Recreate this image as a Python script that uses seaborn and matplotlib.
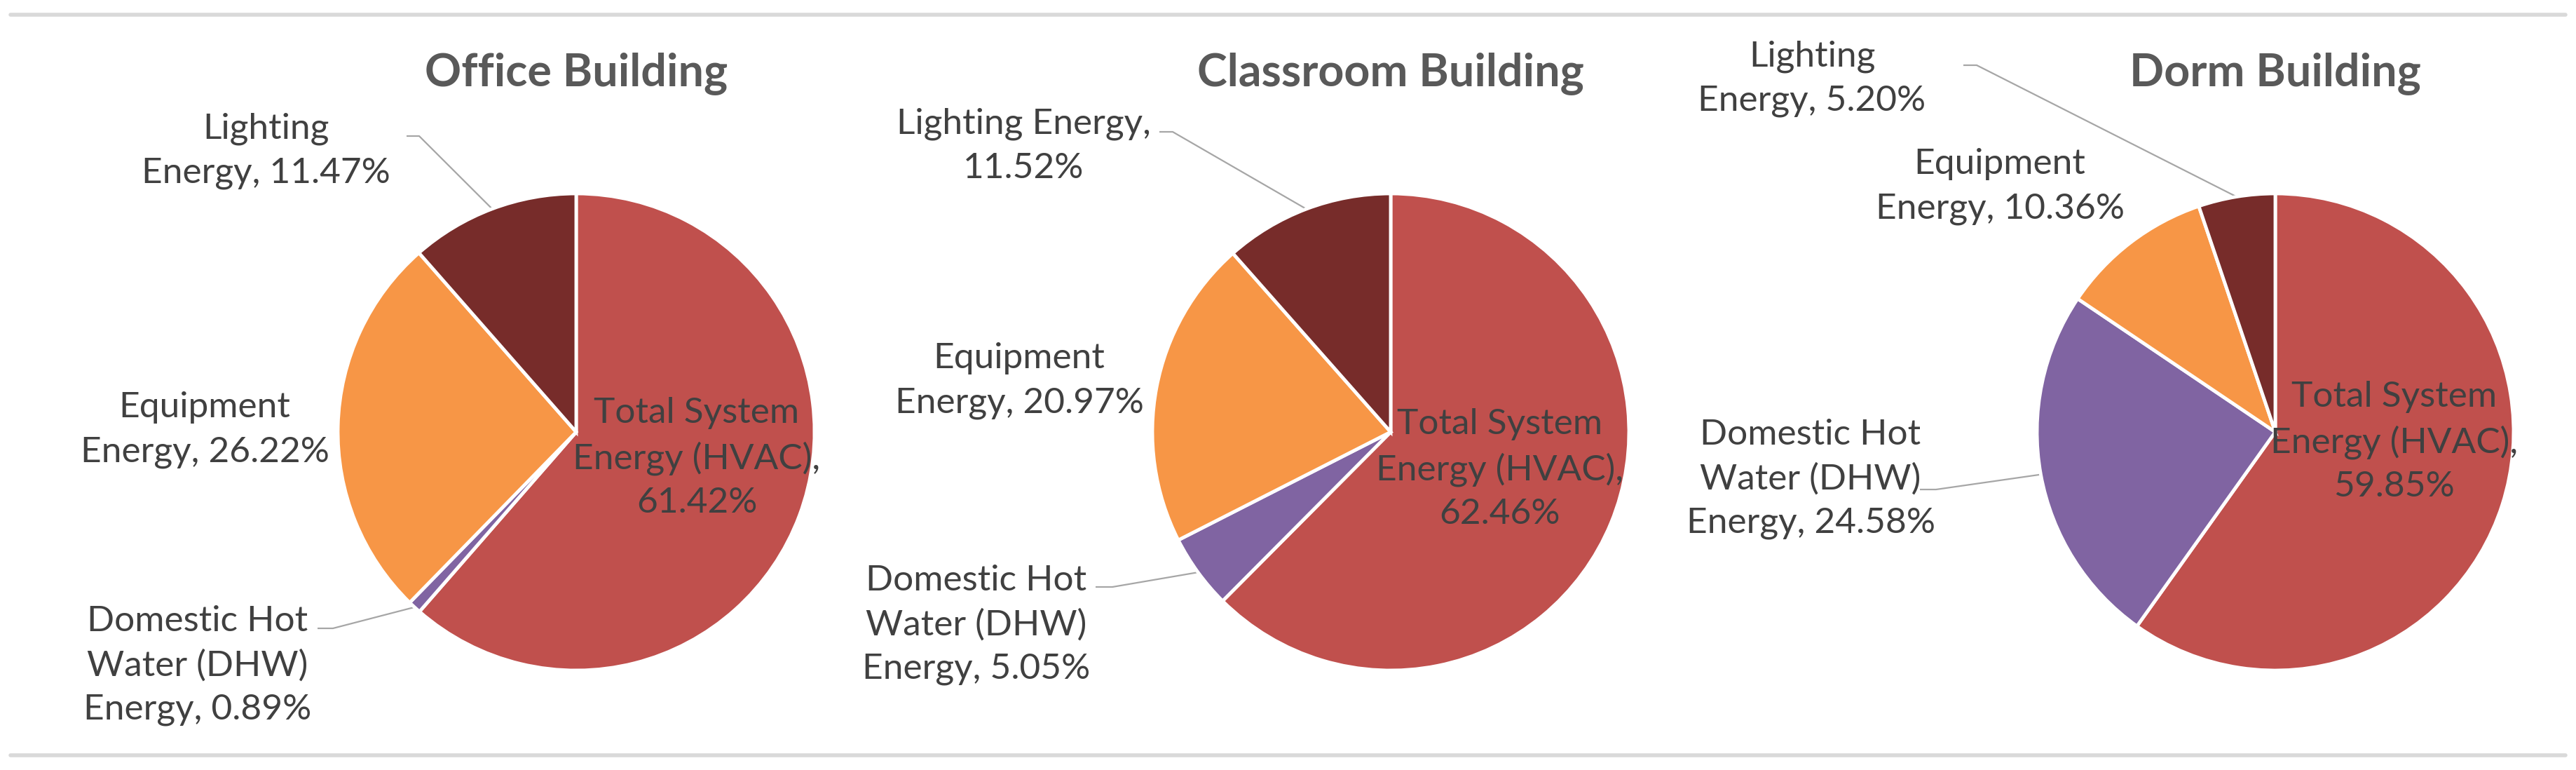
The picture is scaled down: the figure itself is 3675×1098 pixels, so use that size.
import numpy as np
import matplotlib
matplotlib.use("Agg")
import matplotlib.pyplot as plt
import seaborn as sns

# ---------------- data ----------------
buildings = ["Office Building", "Classroom Building", "Dorm Building"]
categories = ["Total System Energy (HVAC)", "Domestic Hot Water (DHW) Energy",
              "Equipment Energy", "Lighting Energy"]
office_values = [61.42, 0.89, 26.22, 11.47]
classroom_values = [62.46, 5.05, 20.97, 11.52]
dorm_values = [59.85, 24.58, 10.36, 5.20]

# label text templates (line breaks as in the reference)
office_labels = ["Total System\nEnergy (HVAC),\n{}", "Domestic Hot\nWater (DHW)\nEnergy, {}",
                 "Equipment\nEnergy, {}", "Lighting\nEnergy, {}"]
classroom_labels = ["Total System\nEnergy (HVAC),\n{}", "Domestic Hot\nWater (DHW)\nEnergy, {}",
                    "Equipment\nEnergy, {}", "Lighting Energy,\n{}"]
dorm_labels = ["Total System\nEnergy (HVAC),\n{}", "Domestic Hot\nWater (DHW)\nEnergy, {}",
               "Equipment\nEnergy, {}", "Lighting\nEnergy, {}"]

colors = ["#C0504D", "#8064A2", "#F79646", "#772C2A"]

# ---------------- layout (pixels, y from top) ----------------
W, H = 3675, 1098
centers = [(822, 616), (1984, 616), (3246, 616)]
radius = 340
title_y = 106
label_pos = [
    [(994, 653), (282, 949), (292, 613), (379, 215)],
    [(2140, 669), (1393, 891), (1454, 543), (1460, 208)],
    [(3416, 630), (2583, 683), (2853, 266), (2585, 112)],
]
# leader lines: (index, start_x, end_x_of_horizontal, y)
leaders = [
    [(1, 453, 475, 896), (3, 580, 598, 194)],
    [(1, 1563, 1587, 837), (3, 1654, 1673, 188)],
    [(1, 2739, 2762, 698), (3, 2801, 2820, 93)],
]

sns.set_theme(style="white")
plt.rcParams["font.family"] = ["Lato", "DejaVu Sans"]

fig = plt.figure(figsize=(W / 100, H / 100), dpi=100)
ax = fig.add_axes([0, 0, 1, 1])

all_values = [office_values, classroom_values, dorm_values]
all_labels = [office_labels, classroom_labels, dorm_labels]

def Y(y):
    return H - y

for b, (vals, labs, (cx, cy)) in enumerate(zip(all_values, all_labels, centers)):
    wedges, _ = ax.pie(vals, colors=colors, startangle=90, counterclock=False,
                       center=(cx, Y(cy)), radius=radius,
                       wedgeprops=dict(edgecolor="white", linewidth=3.5))
    ax.text(cx, Y(title_y), buildings[b], ha="center", va="center",
            fontsize=46.5, fontweight="bold", color="#595959")
    for i, v in enumerate(vals):
        lx, ly = label_pos[b][i]
        ax.text(lx, Y(ly), labs[i].format(f"{v:.2f}%"), ha="center", va="center",
                fontsize=37, color="#404040", linespacing=1.45)
    # leader lines to the wedge mid-angle on the rim
    cum = np.cumsum([0] + vals[:-1])
    for (i, x0, x1, ly) in leaders[b]:
        mid = (cum[i] + vals[i] / 2) / sum(vals) * 360.0
        th = np.deg2rad(mid)
        px = cx + radius * np.sin(th)
        py = cy - radius * np.cos(th)
        ax.plot([x0, x1, px], [Y(ly), Y(ly), Y(py)], color="#A6A6A6", lw=1.6,
                solid_capstyle="butt", zorder=0.5)

# horizontal rules
ax.plot([15, 3660], [Y(21), Y(21)], color="#D9D9D9", lw=4)
ax.plot([15, 3660], [Y(1077), Y(1077)], color="#D9D9D9", lw=4)

ax.set_xlim(0, W)
ax.set_ylim(0, H)
ax.set_aspect("equal")
ax.axis("off")

fig.savefig("out.png", dpi=100, facecolor="white")
